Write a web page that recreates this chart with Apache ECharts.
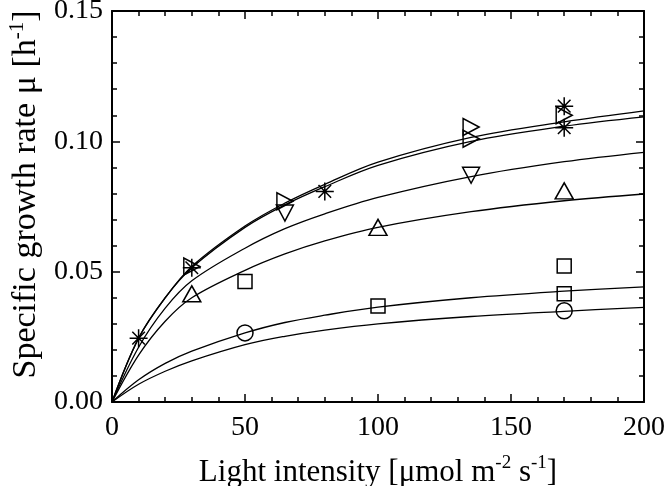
<!DOCTYPE html>
<html><head><meta charset="utf-8">
<script src="https://cdn.jsdelivr.net/npm/echarts@6/dist/echarts.min.js"></script>
<style>html,body{margin:0;padding:0;background:#fff}#c{width:666px;height:486px}</style>
</head><body><div id="c"></div>
<script>
// Fitted curves
const curveX = [0, 10, 20, 30, 50, 65, 80, 100, 135, 170, 200];
const curve1 = [0, 0.0245, 0.0400, 0.0520, 0.0675, 0.0763, 0.0835, 0.0920, 0.1015, 0.1075, 0.1117];
const curve2 = [0, 0.0245, 0.0400, 0.0515, 0.0670, 0.0756, 0.0826, 0.0908, 0.1000, 0.1058, 0.1094];
const curve3 = [0, 0.0210, 0.0360, 0.0465, 0.0590, 0.0665, 0.0722, 0.0785, 0.0865, 0.0922, 0.0958];
const curve4 = [0, 0.0180, 0.0310, 0.0400, 0.0505, 0.0568, 0.0618, 0.0670, 0.0730, 0.0772, 0.0798];
const curve5 = [0, 0.0085, 0.0148, 0.0195, 0.0265, 0.0305, 0.0333, 0.0364, 0.0400, 0.0425, 0.0442];
const curve6 = [0, 0.0068, 0.0118, 0.0158, 0.0220, 0.0252, 0.0276, 0.0300, 0.0328, 0.0348, 0.0363];
// Measured points
const starX = [10, 30, 80, 170, 170];
const starY = [0.0245, 0.0515, 0.0808, 0.1135, 0.1052];
const rightTriX = [30, 65, 135, 135, 170];
const rightTriY = [0.0520, 0.0770, 0.1055, 0.1010, 0.1100];
const downTriX = [65, 135];
const downTriY = [0.0725, 0.0870];
const upTriX = [30, 100, 170];
const upTriY = [0.0415, 0.0670, 0.0810];
const squareX = [50, 100, 170, 170];
const squareY = [0.0462, 0.0368, 0.0522, 0.0415];
const circleX = [50, 170];
const circleY = [0.0265, 0.0350];
// Axis ticks
const xMin = 0, xMax = 200, xStep = 50;
const yMin = 0, yMax = 0.15, yStep = 0.05;

const zip = (a, b) => a.map((v, i) => [v, b[i]]);
const FONT = 'Liberation Serif';
const black = '#000';

const lineSeries = [curve1, curve2, curve3, curve4, curve5, curve6].map(c => ({
  type: 'line', data: zip(curveX, c), smooth: 0.35, showSymbol: false, silent: true,
  lineStyle: { color: black, width: 1.3 }, z: 2
}));

function scatter(xs, ys, symbol, size, rotate) {
  return {
    type: 'scatter', data: zip(xs, ys), symbol: symbol, symbolSize: size,
    symbolRotate: rotate || 0, silent: true, z: 3,
    itemStyle: { color: 'transparent', borderColor: black, borderWidth: 1.5, opacity: 1 }
  };
}
const starPath = 'path://M10,0L10,20M0,10L20,10M3,3L17,17M3,17L17,3';

const axisCommon = {
  axisLine: { show: true, onZero: false, lineStyle: { color: black, width: 2 } },
  axisTick: { show: true, inside: true, length: 8, lineStyle: { color: black, width: 1.5 } },
  minorTick: { show: true, splitNumber: 5, length: 5, lineStyle: { color: black, width: 1.5 } },
  splitLine: { show: false }, minorSplitLine: { show: false }
};

const option = {
  animation: false,
  backgroundColor: '#fff',
  grid: { left: 112, right: 22, top: 11, bottom: 84, containLabel: false, outerBoundsMode: 'none' },
  xAxis: [
    Object.assign({}, axisCommon, {
      type: 'value', position: 'bottom', min: xMin, max: xMax, interval: xStep,
      axisLabel: { color: black, fontFamily: FONT, fontSize: 28, margin: 12 },
      name: '{n|Light intensity [μmol m}{s|-2}{n| s}{s|-1}{n|]}',
      nameLocation: 'middle', nameGap: 52,
      nameTextStyle: {
        rich: {
          n: { fontFamily: FONT, fontSize: 31, color: black, lineHeight: 34, verticalAlign: 'bottom' },
          s: { fontFamily: FONT, fontSize: 19, color: black, lineHeight: 34, verticalAlign: 'top' }
        }
      }
    }),
    Object.assign({}, axisCommon, {
      type: 'value', position: 'top', min: xMin, max: xMax, interval: xStep,
      axisLabel: { show: false }
    })
  ],
  yAxis: [
    Object.assign({}, axisCommon, {
      type: 'value', position: 'left', min: yMin, max: yMax, interval: yStep,
      axisLabel: { color: black, fontFamily: FONT, fontSize: 28, margin: 9, formatter: v => v.toFixed(2) },
      name: '{n|Specific growth rate μ [h}{s|-1}{n|]}',
      nameLocation: 'middle', nameGap: 66,
      nameTextStyle: {
        padding: [0, 0, 0, 24],
        rich: {
          n: { fontFamily: FONT, fontSize: 34, color: black, lineHeight: 36, verticalAlign: 'bottom' },
          s: { fontFamily: FONT, fontSize: 21, color: black, lineHeight: 36, verticalAlign: 'top' }
        }
      }
    }),
    Object.assign({}, axisCommon, {
      type: 'value', position: 'right', min: yMin, max: yMax, interval: yStep,
      axisLabel: { show: false }
    })
  ],
  series: lineSeries.concat([
    scatter(starX, starY, starPath, 18),
    scatter(rightTriX, rightTriY, 'triangle', [17, 16], -90),
    scatter(downTriX, downTriY, 'triangle', [17, 16], 180),
    scatter(upTriX, upTriY, 'triangle', [18, 16]),
    scatter(squareX, squareY, 'rect', 14),
    scatter(circleX, circleY, 'circle', 16)
  ])
};

const chart = echarts.init(document.getElementById('c'), null, { renderer: 'canvas' });
chart.setOption(option);
</script></body></html>
